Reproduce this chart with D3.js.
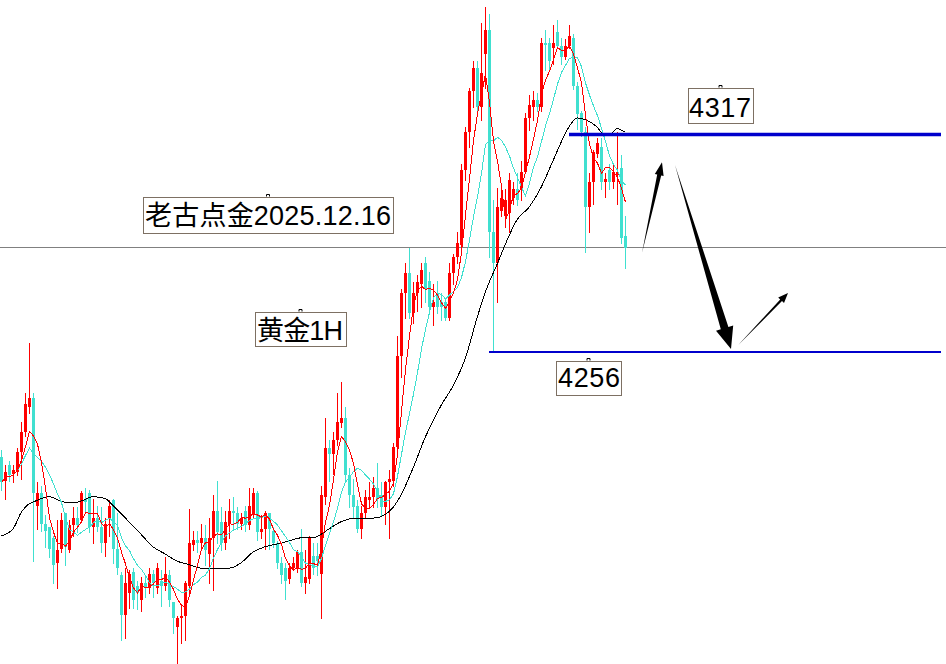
<!DOCTYPE html>
<html>
<head>
<meta charset="utf-8">
<script src="https://cdn.jsdelivr.net/npm/d3@7"></script>
<style>
body { margin: 0; background: #fff; }
svg { display: block; }
</style>
</head>
<body>
<div id="chart"></div>
<script>
// gold 1H candles, oldest first
var opens = [4226.5,4220,4224.5,4222,4222.5,4228,4233.5,4240.5,4243,4213,
  4216.5,4208,4207,4204,4197,4201,4211,4200.5,4207.5,4209.5,
  4209,4215,4216.5,4207,4209.5,4207,4202.5,4209.5,4214.5,4201,
  4193.5,4182.5,4188.5,4194.5,4190.5,4186.5,4191.5,4190,4194,4190,
  4192,4190.5,4193.5,4186,4179,4181.5,4182,4190.5,4202,4203.5,
  4202.5,4204,4199.5,4204,4211.5,4208.5,4202.5,4208,4211.5,4211,
  4208,4211.5,4207.5,4210.5,4216.5,4205.5,4206.5,4211,4206,4202.5,
  4197,4195.5,4192.5,4195.5,4195.5,4200,4191.5,4192.5,4199,4199,
  4194,4215.5,4229,4227.5,4231.5,4236,4237.5,4221.5,4216,4213,
  4206.5,4211,4214.5,4215.5,4218,4216,4212.5,4219.5,4220,4229.5,
  4255,4272.5,4278,4267,4272.5,4275,4281,4276,4268.5,4272.5,
  4270,4270,4265.5,4278,4282.5,4286,4307,4317.5,4329,4335.5,
  4324.5,4339.5,4346,4289.5,4281,4295.5,4294,4295,4299,4301.5,
  4301.5,4306.5,4321.5,4324.5,4326.5,4324.5,4342.5,4342.5,4341,4345.5,
  4341.5,4338.5,4341.5,4344,4330.5,4323,4317.5,4296.5,4303.5,4311.5,
  4313.5,4303.5,4307,4303.5,4305.5,4307.5,4288.5];
var highs = [4228.5,4224.5,4225.5,4224.5,4229,4236.5,4244.5,4258.5,4244.5,4219.5,
  4218.5,4210.5,4207,4204.5,4209,4211,4211,4209,4212.5,4212.5,
  4217,4218,4217.5,4215,4213,4212.5,4209.5,4214.5,4215,4211,
  4194.5,4195.5,4195,4195.5,4192,4193,4193,4195.5,4195,4197,
  4195,4198.5,4195,4186,4182,4185.5,4192,4212,4206,4206,
  4208,4207.5,4209.5,4216,4220,4212.5,4211.5,4215,4215.5,4212.5,
  4211,4213,4218,4218,4217,4210.5,4211.5,4211,4207,4203,
  4198.5,4197,4197,4198.5,4200.5,4206.5,4200.5,4204.5,4202.5,4202.5,
  4218.5,4237.5,4231.5,4233.5,4244.5,4247.5,4240.5,4223.5,4220.5,4214.5,
  4213,4217.5,4219.5,4221,4225,4219.5,4220,4223,4230.5,4260.5,
  4273.5,4281,4285,4275.5,4277.5,4281,4282.5,4278.5,4275,4276,
  4272.5,4271,4281,4283.5,4289.5,4308.5,4319,4330,4337.5,4337.5,
  4348,4352.5,4350.5,4298.5,4302,4302,4301.5,4306,4303.5,4306,
  4309.5,4323,4328,4329,4328.5,4344,4346,4344,4347.5,4349,
  4344,4343.5,4347.5,4345,4331.5,4323.5,4319,4306,4312.5,4316,
  4316,4306,4308.5,4309,4317.5,4311,4294];
var lows = [4217.5,4215,4220,4219.5,4221.5,4220.5,4232.5,4239,4197.5,4206.5,
  4206,4201.5,4198.5,4191.5,4190,4200,4196.5,4200,4204.5,4205.5,
  4208.5,4211,4205.5,4202.5,4206,4200,4199,4204.5,4197,4194,
  4175.5,4176,4184.5,4184.5,4184,4183.5,4187.5,4188.5,4187.5,4188.5,
  4185,4189.5,4185,4177.5,4169,4174.5,4175.5,4188.5,4200.5,4200,
  4201,4196.5,4191.5,4189.5,4202.5,4200.5,4201,4204,4206.5,4206.5,
  4206.5,4206,4206.5,4209.5,4203.5,4204,4201,4201,4201.5,4195.5,
  4191.5,4187,4191.5,4195,4194.5,4190.5,4188.5,4191.5,4194,4193.5,
  4181.5,4213.5,4220,4222,4230,4235,4220,4212.5,4209.5,4205.5,
  4204,4209.5,4212.5,4212.5,4212.5,4210.5,4208,4204,4218.5,4227.5,
  4249,4265.5,4265.5,4264,4267.5,4268.5,4270,4267,4263.5,4267,
  4265,4265,4265,4275,4281,4285,4304,4313.5,4324.5,4323,
  4321,4330,4282.5,4256,4270,4294,4291,4289.5,4297.5,4297,
  4298.5,4306,4318,4321,4323.5,4323.5,4335,4334.5,4336.5,4341,
  4336.5,4338,4341,4329.5,4318.5,4316.5,4284,4289.5,4297.5,4310.5,
  4301.5,4299.5,4301.5,4302,4297.5,4286.5,4279.5];
var closes = [4219.5,4222.5,4221.5,4223,4228,4233.5,4241.5,4243,4216.5,4216.5,
  4208,4206,4201,4196.5,4200.5,4209,4201.5,4207.5,4209.5,4207.5,
  4216.5,4214,4207,4209.5,4207,4202.5,4208,4213,4201,4195.5,
  4182.5,4191.5,4194,4186.5,4188.5,4191.5,4190,4194,4191.5,4195.5,
  4190.5,4194,4186.5,4181.5,4181.5,4182,4191.5,4202.5,4203.5,4202.5,
  4204,4200.5,4204,4211.5,4205.5,4202.5,4208.5,4211.5,4211,4208,
  4209.5,4207.5,4213,4216.5,4205.5,4206.5,4211,4206.5,4202.5,4197,
  4193.5,4192,4195.5,4197,4200,4191.5,4193,4204,4195.5,4197.5,
  4216,4229,4227.5,4231.5,4236.5,4237.5,4221.5,4216,4212.5,4206.5,
  4211,4215.5,4215.5,4218,4215,4212.5,4219.5,4220.5,4229.5,4255,
  4272.5,4278,4267,4272.5,4275.5,4279,4273.5,4268.5,4270,4268.5,
  4268.5,4265.5,4278,4282.5,4286.5,4307,4317.5,4329,4335.5,4324.5,
  4334,4346,4289.5,4281,4296.5,4299,4298.5,4304,4301.5,4298.5,
  4306.5,4321.5,4325,4326.5,4324.5,4342.5,4342,4337.5,4342.5,4341.5,
  4338.5,4341.5,4344.5,4330.5,4322.5,4317.5,4296.5,4303.5,4312,4314.5,
  4303.5,4304.5,4303.5,4306.5,4306.5,4288,4285];

// long MA (black), read at some candles: candle index / value
var maLongIdx = [0,3,5,7,8,12,16,19,23,26,28,32,35,38,41,44,47,50,57,60,
  63,66,70,73,75,78,82,85,89,93,96,98,100,103,106,110,113,116,119,121,
  124,127,129,132,135,138,142,144,146,149,151,153,154,156];
var maLongVal = [4204.5,4206.5,4211,4213.5,4214,4215.5,4214,4214,4215.5,4215,
  4213,4208.5,4205,4201.5,4199.5,4197.5,4196.5,4195.5,4195.5,4197,
  4200,4201.5,4202.5,4203.5,4204,4204,4206.5,4208.5,4209.5,4209.5,
  4210.5,4212.5,4216,4223.5,4232,4241,4246.5,4254,4265.5,4272.5,
  4280.5,4288.5,4293,4296.5,4302,4309.5,4319,4321.5,4321,4319,
  4316.5,4317.5,4318.5,4317.5];

var levels = [4317, 4256];        // resistance / support
var levelFrom = [142, 122];       // candle where each line starts
var levelTo = 235;
var bidPrice = 4285.3;

// arrows: [candle, price] from -> to
var arrowFrom = [[160.25, 4283.7], [168.5, 4308.3], [184.25, 4257.9]];
var arrowTo = [[165.25, 4309.1], [182.5, 4256.8], [196.75, 4272.5]];

var width = 946, height = 664;
var upColor = "#ff0000", downColor = "#40e0d0";

var svg = d3.select("#chart").append("svg")
    .attr("width", width)
    .attr("height", height);

svg.append("rect").attr("width", width).attr("height", height).attr("fill", "#fff");

var x = d3.scaleLinear().domain([0, closes.length - 1]).range([1, 625]);
var y = d3.scaleLinear().domain([levels[1], levels[0]]).range([352, 134]);

// bid line
svg.append("line")
    .attr("x1", 0).attr("x2", width)
    .attr("y1", Math.round(y(bidPrice)) + 0.5)
    .attr("y2", Math.round(y(bidPrice)) + 0.5)
    .attr("stroke", "#808080")
    .attr("stroke-width", 1);

// candles
var idx = d3.range(closes.length);
var candles = svg.append("g").attr("shape-rendering", "crispEdges")
    .selectAll("g").data(idx).join("g");

function col(i) { return closes[i] >= opens[i] ? upColor : downColor; }

candles.append("line")
    .attr("x1", i => Math.round(x(i)) + 0.5)
    .attr("x2", i => Math.round(x(i)) + 0.5)
    .attr("y1", i => Math.round(y(highs[i])))
    .attr("y2", i => Math.round(y(lows[i])) + 1)
    .attr("stroke", col);

candles.append("rect")
    .attr("x", i => Math.round(x(i)) - 1)
    .attr("width", 3)
    .attr("y", i => Math.round(y(Math.max(opens[i], closes[i]))))
    .attr("height", i => Math.max(1, Math.round(y(Math.min(opens[i], closes[i]))) - Math.round(y(Math.max(opens[i], closes[i])))))
    .attr("fill", col);

// moving averages
function sma(arr, n) {
    return arr.map(function (v, i) {
        return d3.mean(arr.slice(Math.max(0, i - n + 1), i + 1));
    });
}
var ma5 = sma(closes, 5);
var ma10 = sma(closes, 10);

svg.append("path")
    .attr("d", d3.line().x(i => x(maLongIdx[i])).y(i => y(maLongVal[i]))
        .curve(d3.curveMonotoneX)(d3.range(maLongIdx.length)))
    .attr("fill", "none").attr("stroke", "#000").attr("stroke-width", 1)
    .attr("shape-rendering", "crispEdges");

svg.append("path")
    .attr("d", d3.line().x(i => x(i) + 0.5).y(i => y(ma10[i]))(idx))
    .attr("fill", "none").attr("stroke", downColor).attr("stroke-width", 1)
    .attr("shape-rendering", "crispEdges");

svg.append("path")
    .attr("d", d3.line().x(i => x(i) + 0.5).y(i => y(ma5[i]))(idx))
    .attr("fill", "none").attr("stroke", upColor).attr("stroke-width", 1)
    .attr("shape-rendering", "crispEdges");

// support / resistance
svg.append("line")
    .attr("x1", x(levelFrom[0])).attr("x2", x(levelTo))
    .attr("y1", y(levels[0]) + 0.5).attr("y2", y(levels[0]) + 0.5)
    .attr("stroke", "#0000cc").attr("stroke-width", 3.5);
svg.append("line")
    .attr("x1", x(levelFrom[1])).attr("x2", x(levelTo))
    .attr("y1", y(levels[1])).attr("y2", y(levels[1]))
    .attr("stroke", "#0000cc").attr("stroke-width", 2);

// arrows
function arrowPath(x0, y0, x1, y1, shaft, headLen, headW) {
    var dx = x1 - x0, dy = y1 - y0, len = Math.sqrt(dx * dx + dy * dy);
    var ux = dx / len, uy = dy / len, px = -uy, py = ux;
    var bx = x1 - ux * headLen, by = y1 - uy * headLen;
    var pts = [[x0, y0],
        [bx + px * shaft / 2, by + py * shaft / 2],
        [bx + px * headW / 2, by + py * headW / 2],
        [x1, y1],
        [bx - px * headW / 2, by - py * headW / 2],
        [bx - px * shaft / 2, by - py * shaft / 2]];
    return "M" + pts.map(p => p[0].toFixed(1) + "," + p[1].toFixed(1)).join("L") + "Z";
}
var arrowSize = [[4, 13, 9], [8, 22, 18], [2.5, 10, 8]];
arrowFrom.forEach(function (a, k) {
    var s = arrowSize[k];
    svg.append("path")
        .attr("d", arrowPath(x(a[0]), y(a[1]), x(arrowTo[k][0]), y(arrowTo[k][1]), s[0], s[1], s[2]))
        .attr("fill", "#000");
});

// text labels
var font = "'Liberation Sans', 'Noto Sans CJK SC', sans-serif";
function label(txt, bx, by, bw, bh, tx, ty, tlen) {
    svg.append("rect")
        .attr("x", bx + 0.5).attr("y", by + 0.5)
        .attr("width", bw).attr("height", bh)
        .attr("fill", "#fff").attr("stroke", "#7d7063").attr("stroke-width", 1);
    var t = svg.append("text")
        .attr("x", tx).attr("y", ty)
        .attr("font-family", font).attr("font-size", 27)
        .attr("fill", "#000")
        .text(txt);
    if (tlen) t.attr("textLength", tlen).attr("lengthAdjust", "spacing");
    var mx = bx + bw / 2;
    svg.append("path")
        .attr("d", "M" + (mx - 1.5) + "," + (by - 0.5) + "L" + (mx - 1.5) + "," + (by - 2.5) + "L" + (mx + 1.5) + "," + (by - 2.5) + "L" + (mx + 1.5) + "," + (by - 0.5))
        .attr("fill", "none").attr("stroke", "#000").attr("stroke-width", 1);
}

label("老古点金2025.12.16", 143, 197, 250, 36, 145, 225, 246);
label("黄金1H", 255, 312, 91, 34, 257, 340, 86);
label(String(levels[0]), 688, Math.round(y(levels[0])) - 46, 65, 35, 689, Math.round(y(levels[0])) - 17, 62);
label(String(levels[1]), 556, Math.round(y(levels[1])) + 9, 65, 34, 558, Math.round(y(levels[1])) + 35, 62);
</script>
</body>
</html>
